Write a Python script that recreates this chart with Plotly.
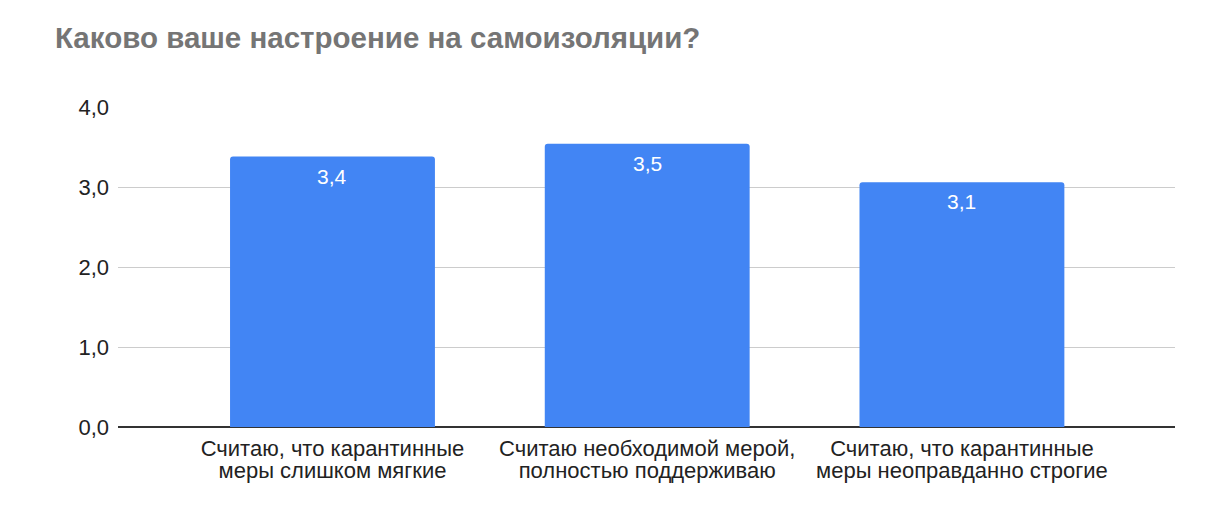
import plotly.graph_objects as go

title = "Каково ваше настроение на самоизоляции?"
cat_line1 = [
    "Считаю, что карантинные",
    "Считаю необходимой мерой,",
    "Считаю, что карантинные",
]
cat_line2 = [
    "меры слишком мягкие",
    "полностью поддерживаю",
    "меры неоправданно строгие",
]
values = [3.38, 3.54, 3.06]
y_ticks = [0, 1, 2, 3, 4]

x_idx = list(range(len(values)))
FONT = "Liberation Sans, Arial, sans-serif"

fig = go.Figure()
fig.add_trace(go.Bar(
    x=x_idx,
    y=values,
    marker=dict(color="#4285F4", line=dict(width=0), cornerradius=3),
    hoverinfo="skip",
))
# invisible helper trace so the second-line category axis is drawn
fig.add_trace(go.Scatter(
    x=x_idx, y=values, xaxis="x2", yaxis="y",
    mode="markers", marker=dict(opacity=0, size=1),
    hoverinfo="skip", showlegend=False,
))

for i, v in zip(x_idx, values):
    fig.add_annotation(
        x=i, y=v, xref="x", yref="y",
        text=f"{v:.1f}".replace(".", ","),
        showarrow=False, yanchor="top", yshift=-6,
        font=dict(family=FONT, size=21, color="white"),
    )

fig.update_layout(
    width=1198, height=516,
    margin=dict(l=110, r=31, t=99, b=97),
    paper_bgcolor="white", plot_bgcolor="white",
    separators=", ",
    bargap=0.349,
    showlegend=False,
    title=dict(text=title, x=47 / 1198, xref="container", xanchor="left",
               y=1 - 30 / 516, yref="container", yanchor="middle",
               font=dict(family=FONT, size=29.5, color="#757575", weight="bold")),
    xaxis=dict(
        range=[-0.6815, 2.677],
        tickmode="array", tickvals=x_idx, ticktext=cat_line1,
        tickfont=dict(family=FONT, size=22, color="#222222"),
        showgrid=False, zeroline=False, showline=False, ticks="",
        ticklabelstandoff=6,
        fixedrange=True,
    ),
    xaxis2=dict(
        overlaying="x", matches="x", anchor="y", side="bottom",
        range=[-0.6815, 2.677],
        tickmode="array", tickvals=x_idx, ticktext=cat_line2,
        tickfont=dict(family=FONT, size=22, color="#222222"),
        showgrid=False, zeroline=False, showline=False, ticks="",
        ticklabelstandoff=28,
        fixedrange=True,
    ),
    yaxis=dict(
        range=[0, 4],
        tickmode="array", tickvals=y_ticks, ticktext=[f"{v},0" for v in y_ticks],
        tickfont=dict(family=FONT, size=22, color="#222222"),
        showgrid=True, gridcolor="#cccccc", gridwidth=1,
        zeroline=True, zerolinecolor="#333333", zerolinewidth=1.5,
        ticks="", ticklabelstandoff=8,
        fixedrange=True,
    ),
)

fig.write_html("out.html")
